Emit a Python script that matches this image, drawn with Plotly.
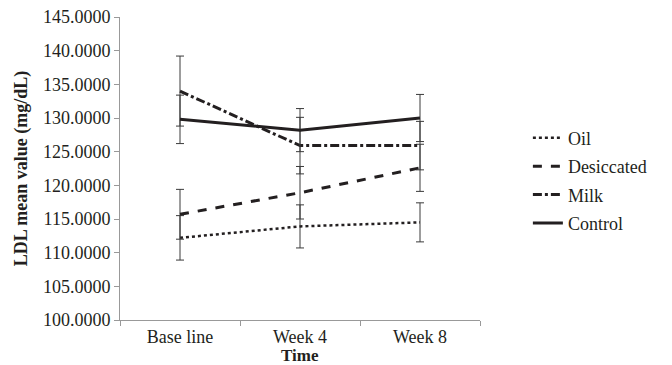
import plotly.graph_objects as go

categories = ["Base line", "Week 4", "Week 8"]
series_names = ["Oil", "Desiccated", "Milk", "Control"]
oil = [112.2, 113.9, 114.5]
oil_err = [3.3, 3.2, 2.9]
desiccated = [115.7, 118.9, 122.6]
desiccated_err = [3.7, 3.9, 3.5]
milk = [134.0, 125.9, 125.9]
milk_err = [5.2, 4.2, 3.6]
control = [129.8, 128.2, 130.0]
control_err = [3.6, 3.2, 3.5]
y_ticks = [100, 105, 110, 115, 120, 125, 130, 135, 140, 145]

values = [oil, desiccated, milk, control]
errors = [oil_err, desiccated_err, milk_err, control_err]
dashes = ["dot", "dash", "dashdot", "solid"]
widths = [2.5, 3, 3, 3]

ink = "#231f20"
font = "Liberation Serif, Times New Roman, serif"

fig = go.Figure()
for name, v, e, d, w in zip(series_names, values, errors, dashes, widths):
    fig.add_trace(go.Scatter(
        x=categories, y=v, name=name, mode="lines",
        line=dict(color=ink, dash=d, width=w),
        error_y=dict(type="data", array=e, visible=True, color="#3a3a3a", thickness=1, width=4),
        legendgroup=name,
    ))

# page body has an 8px default margin, so the figure is offset by 8px
fig.update_layout(
    width=672, height=365,
    margin=dict(l=112, r=200, t=9, b=53),
    plot_bgcolor="white", paper_bgcolor="white",
    font=dict(family=font, size=18, color=ink),
    showlegend=True,
    legend=dict(x=1.133, xanchor="left", y=0.46, yanchor="middle",
                font=dict(size=18, family=font, color=ink),
                tracegroupgap=2, bgcolor="rgba(0,0,0,0)"),
    annotations=[dict(text="<b>Time</b>", xref="paper", yref="paper", x=0.5, y=-0.118,
                      xanchor="center", yanchor="middle", showarrow=False,
                      font=dict(size=17, family=font, color=ink))],
)
fig.update_xaxes(
    type="category", range=[-0.5, 2.5], tickson="boundaries", ticks="outside", ticklen=5,
    tickcolor="#999", showline=True, linecolor="#999", linewidth=1, automargin=False,
    ticklabeloverflow="allow",
    showgrid=False, tickfont=dict(size=18, family=font, color=ink),
)
fig.update_yaxes(
    range=[100, 145], tickvals=y_ticks, tickformat=".4f", ticks="outside", ticklen=5,
    tickcolor="#999", showline=True, linecolor="#999", linewidth=1, automargin=False,
    ticklabeloverflow="allow",
    showgrid=False, zeroline=False, tickfont=dict(size=18, family=font, color=ink),
    title=dict(text="<b>LDL mean value (mg/dL)</b>", font=dict(size=18, family=font, color=ink), standoff=10),
)

fig.write_html("out.html")
